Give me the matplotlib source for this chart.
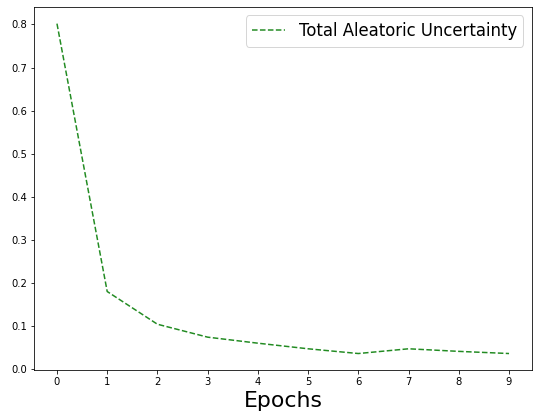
import matplotlib
matplotlib.use("Agg")
import matplotlib.pyplot as plt

epochs = list(range(10))
total_aleatoric = [0.802, 0.180, 0.104, 0.074, 0.060, 0.047, 0.036, 0.047, 0.041, 0.036]

fig = plt.figure(figsize=(537 / 72, 420 / 72), dpi=72)
ax = fig.add_axes([0.064, 0.119, 0.926, 0.864])
ax.plot(epochs, total_aleatoric, "--", color="forestgreen", label="Total Aleatoric Uncertainty")
ax.set_xticks(epochs)
ax.set_xlabel("Epochs", fontsize=22)
ax.legend(fontsize=16.5)
fig.savefig("out.png", dpi=72)
